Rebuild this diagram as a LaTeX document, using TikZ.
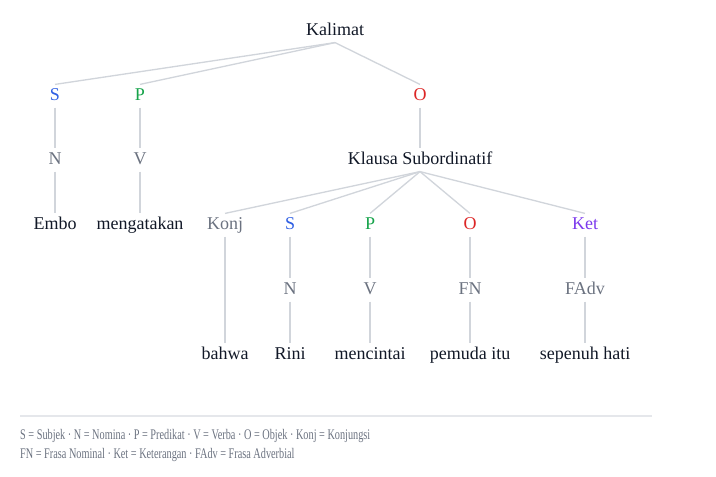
\documentclass[tikz,border=0pt]{standalone}
\usepackage{fontspec}
\setmainfont{Liberation Serif}
\definecolor{ink}{HTML}{111827}
\definecolor{catgray}{HTML}{6B7280}
\definecolor{subjblue}{HTML}{2F5FE3}
\definecolor{predgreen}{HTML}{16A34A}
\definecolor{objred}{HTML}{DC2626}
\definecolor{ketpurple}{HTML}{7C3AED}
\definecolor{linegray}{HTML}{D1D5DB}
\definecolor{rulegray}{HTML}{E5E7EB}
\tikzset{
    word/.style = {inner sep=0pt, minimum height=17pt, text height=9.5pt, text depth=3pt, font=\fontsize{13.5}{16}\selectfont, text=ink},
    cat/.style = {word, text=catgray},
    catS/.style = {word, text=subjblue},
    catP/.style = {word, text=predgreen},
    catO/.style = {word, text=objred},
    catK/.style = {word, text=ketpurple},
    edgel/.style = {draw=linegray, line width=1pt},
    legend/.style = {anchor=west, inner sep=0pt, text=catgray, font=\fontsize{11}{12}\selectfont, xscale=0.70, transform shape},
}
\begin{document}
\begin{tikzpicture}[x=0.75pt,y=-0.75pt]
\useasboundingbox (0,0) rectangle (716,476);
\node[word] at (335, 31) (kalimat) {Kalimat};
\node[catS] at (55, 96) (s1) {S};
\node[catP] at (140, 96) (p1) {P};
\node[catO] at (420, 96) (o1) {O};
\node[cat] at (55, 160) (n1) {N};
\node[cat] at (140, 160) (v1) {V};
\node[word] at (420, 160) (klausa) {Klausa Subordinatif};
\node[word] at (55, 225) (embo) {Embo};
\node[word] at (140, 225) (mengatakan) {mengatakan};
\node[cat] at (225, 225) (konj) {Konj};
\node[catS] at (290, 225) (s2) {S};
\node[catP] at (370, 225) (p2) {P};
\node[catO] at (470, 225) (o2) {O};
\node[catK] at (585, 225) (ket) {Ket};
\node[cat] at (290, 290) (n2) {N};
\node[cat] at (370, 290) (v2) {V};
\node[cat] at (470, 290) (fn) {FN};
\node[cat] at (585, 290) (fadv) {FAdv};
\node[word] at (225, 355) (bahwa) {bahwa};
\node[word] at (290, 355) (rini) {Rini};
\node[word] at (370, 355) (mencintai) {mencintai};
\node[word] at (470, 355) (pemuda) {pemuda itu};
\node[word] at (585, 355) (sepenuh) {sepenuh hati};

\draw[edgel] (kalimat.south) -- (s1.north);
\draw[edgel] (kalimat.south) -- (p1.north);
\draw[edgel] (kalimat.south) -- (o1.north);
\draw[edgel] (s1.south) -- (n1.north);
\draw[edgel] (p1.south) -- (v1.north);
\draw[edgel] (o1.south) -- (klausa.north);
\draw[edgel] (n1.south) -- (embo.north);
\draw[edgel] (v1.south) -- (mengatakan.north);

\draw[edgel] (klausa.south) -- (konj.north);
\draw[edgel] (klausa.south) -- (s2.north);
\draw[edgel] (klausa.south) -- (p2.north);
\draw[edgel] (klausa.south) -- (o2.north);
\draw[edgel] (klausa.south) -- (ket.north);
\draw[edgel] (konj.south) -- (bahwa.north);
\draw[edgel] (s2.south) -- (n2.north);
\draw[edgel] (p2.south) -- (v2.north);
\draw[edgel] (o2.south) -- (fn.north);
\draw[edgel] (ket.south) -- (fadv.north);
\draw[edgel] (n2.south) -- (rini.north);
\draw[edgel] (v2.south) -- (mencintai.north);
\draw[edgel] (fn.south) -- (pemuda.north);
\draw[edgel] (fadv.south) -- (sepenuh.north);

% legend
\draw[rulegray, line width=1pt] (20, 416) -- (652, 416);
\node[legend] at (20, 436) (legend1) {S = Subjek · N = Nomina · P = Predikat · V = Verba · O = Objek · Konj = Konjungsi};
\node[legend] at (20, 455) (legend2) {FN = Frasa Nominal · Ket = Keterangan · FAdv = Frasa Adverbial};
\end{tikzpicture}
\end{document}
